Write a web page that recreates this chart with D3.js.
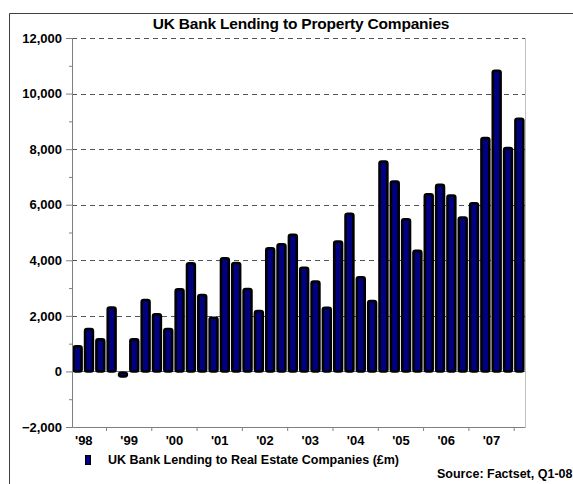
<!DOCTYPE html>
<html>
<head>
<meta charset="utf-8">
<script src="https://cdn.jsdelivr.net/npm/d3@7"></script>
<style>
  body { margin: 0; background: #fff; }
  svg { display: block; font-family: "Liberation Sans", Arial, sans-serif; }
</style>
</head>
<body>
<div id="chart"></div>
<script>
// quarterly data, Q2-98 .. Q1-08 (£m)
var quarters = ["Q2-98","Q3-98","Q4-98","Q1-99","Q2-99","Q3-99","Q4-99","Q1-00","Q2-00","Q3-00",
                "Q4-00","Q1-01","Q2-01","Q3-01","Q4-01","Q1-02","Q2-02","Q3-02","Q4-02","Q1-03",
                "Q2-03","Q3-03","Q4-03","Q1-04","Q2-04","Q3-04","Q4-04","Q1-05","Q2-05","Q3-05",
                "Q4-05","Q1-06","Q2-06","Q3-06","Q4-06","Q1-07","Q2-07","Q3-07","Q4-07","Q1-08"];
var lending = [950, 1575, 1200, 2350, -180, 1200, 2620, 2100, 1575, 3000,
               3940, 2800, 1980, 4120, 3950, 3015, 2220, 4480, 4625, 4960,
               3780, 3280, 2340, 4720, 5720, 3435, 2580, 7600, 6880, 5525,
               4385, 6425, 6760, 6380, 5585, 6100, 8445, 10870, 8085, 9140];
var yearLabels = ["'98","'99","'00","'01","'02","'03","'04","'05","'06","'07"];
var yTicks = [-2000, 0, 2000, 4000, 6000, 8000, 10000, 12000];

var W = 573, H = 484;
var margin = {left: 72, right: 48, top: 38, bottom: 57};
var width = W - margin.left - margin.right;
var height = H - margin.top - margin.bottom;

var svg = d3.select("#chart").append("svg")
    .attr("width", W)
    .attr("height", H);

// outer frame (top + left only visible)
svg.append("path")
    .attr("d", "M9.5," + H + "V13.5H" + W)
    .attr("fill", "none")
    .attr("stroke", "#404040")
    .attr("stroke-width", 1);

svg.append("text")
    .attr("x", 301)
    .attr("y", 29)
    .attr("text-anchor", "middle")
    .attr("font-weight", "bold")
    .attr("font-size", 15.5)
    .attr("letter-spacing", -0.2)
    .text("UK Bank Lending to Property Companies");

var g = svg.append("g")
    .attr("transform", "translate(" + margin.left + "," + margin.top + ")");

var x = d3.scaleBand()
    .domain(quarters)
    .range([0, width])
    .paddingInner(0.08)
    .paddingOuter(0.04);

// year scale for the axis (start of Q2-98 .. end of Q1-08)
var xYear = d3.scaleLinear()
    .domain([1998.25, 2008.25])
    .range([0, width]);

var y = d3.scaleLinear()
    .domain([-2000, 12000])
    .range([height, 0]);

// plot border on the right
g.append("line")
    .attr("x1", width + 0.5).attr("x2", width + 0.5)
    .attr("y1", 0).attr("y2", height)
    .attr("stroke", "#c0c0c0");

// gridlines
g.selectAll(".grid")
    .data(yTicks.filter(function(d) { return d > 0; }))
    .enter()
    .append("line")
    .attr("x1", 0)
    .attr("x2", width)
    .attr("y1", function(d) { return Math.round(y(d)) + 0.5; })
    .attr("y2", function(d) { return Math.round(y(d)) + 0.5; })
    .attr("stroke", "#555")
    .attr("stroke-dasharray", "5,4");

// zero line
g.append("line")
    .attr("x1", 0).attr("x2", width)
    .attr("y1", Math.round(y(0)) + 0.5).attr("y2", Math.round(y(0)) + 0.5)
    .attr("stroke", "#6b6b8a");

// bars
var sw = 2.6;
g.selectAll(".bar")
    .data(lending)
    .enter()
    .append("rect")
    .attr("x", function(d, i) { return x(quarters[i]) + sw / 2; })
    .attr("width", x.bandwidth() - sw)
    .attr("y", function(d) { return y(Math.max(0, d)) + sw / 2; })
    .attr("height", function(d) { return Math.max(1, Math.abs(y(d) - y(0)) - sw / 2); })
    .attr("rx", 2)
    .attr("fill", "#000080")
    .attr("stroke", "#000")
    .attr("stroke-width", sw);

// y axis
g.append("g")
    .call(d3.axisLeft(y).tickValues(yTicks).tickSize(6).tickPadding(4).tickFormat(d3.format(",")));
g.append("g")
    .call(d3.axisLeft(y).tickValues(d3.range(-1000, 12000, 2000)).tickSize(3).tickFormat(""))
    .select(".domain").remove();

// x axis: ticks at year boundaries, labels in the middle of each year
g.append("g")
    .attr("transform", "translate(0," + height + ")")
    .call(d3.axisBottom(xYear).tickValues(d3.range(1999, 2009)).tickSize(4).tickSizeOuter(0).tickFormat(""));
g.append("g")
    .attr("transform", "translate(0," + height + ")")
    .call(d3.axisBottom(xYear).tickValues(d3.range(1998.5, 2008, 1)).tickSize(0).tickPadding(9)
        .tickFormat(function(d, i) { return yearLabels[i]; }))
    .select(".domain").remove();

g.selectAll(".domain, .tick line").attr("stroke", "#808080");
g.selectAll(".tick text")
    .attr("fill", "#000")
    .attr("font-weight", "bold")
    .attr("font-size", 13)
    .attr("font-family", "Liberation Sans, Arial, sans-serif");

// legend
svg.append("rect")
    .attr("x", 85.5).attr("y", 455.5)
    .attr("width", 5).attr("height", 9)
    .attr("fill", "#000080")
    .attr("stroke", "#000");
svg.append("text")
    .attr("x", 108)
    .attr("y", 464)
    .attr("font-weight", "bold")
    .attr("font-size", 12.5)
    .text("UK Bank Lending to Real Estate Companies (£m)");

svg.append("text")
    .attr("x", 437)
    .attr("y", 478)
    .attr("font-weight", "bold")
    .attr("font-size", 12.5)
    .text("Source: Factset, Q1-08");
</script>
</body>
</html>
